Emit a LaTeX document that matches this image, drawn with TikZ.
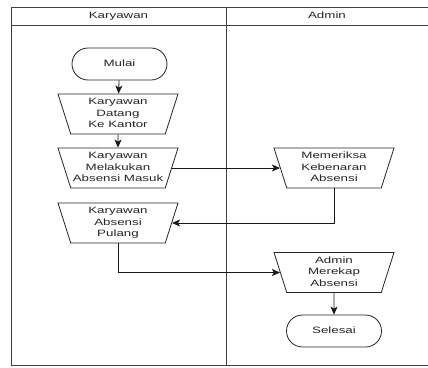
\documentclass[tikz,border=0pt]{standalone}
\usepackage{fontspec}
\setmainfont{Liberation Sans}
\usetikzlibrary{shapes.geometric,arrows.meta}
\newcommand{\sx}[1]{\makebox[40pt]{\scalebox{1.45}[1]{\begin{tabular}{@{}c@{}}#1\end{tabular}}}}
\begin{document}
\begin{tikzpicture}[x=1pt,y=-1pt,
  line width=0.8pt,
  every node/.style={font=\fontsize{9.2}{11.3}\selectfont, text=black!85},
  manual/.style={draw=black!85, fill=white, trapezium, shape border rotate=180,
    trapezium stretches body=true, minimum width=120pt, minimum height=40pt,
    trapezium angle=69.4, inner sep=0pt},
  term/.style={draw=black!85, fill=white, rectangle, rounded corners=16pt,
    minimum width=95pt, minimum height=32pt, inner sep=0pt},
  arr/.style={draw=black!90, -{Stealth[length=8pt,width=7pt,inset=2pt]}},
  pool/.style={draw=black!75, line width=0.9pt}]
\useasboundingbox (0,0) rectangle (428,367);
\fill[white] (0,0) rectangle (428,367);
% pool
\draw[pool] (428,7) -- (11,7) -- (11,365) -- (428,365);
\draw[pool] (11,25) -- (428,25);
\draw[pool] (226,7) -- (226,365);
\node (hk) at (118.5,16) {\sx{Karyawan}};
\node (ha) at (327,16) {\sx{Admin}};
% nodes
\node[term] (mulai) at (119.5,64) {\sx{Mulai}};
\node[manual] (t1) at (118,114) {\sx{Karyawan\\Datang\\Ke Kantor}};
\node[manual] (t2) at (118,168) {\sx{Karyawan\\Melakukan\\Absensi Masuk}};
\node[manual] (t3) at (118,223) {\sx{Karyawan\\Absensi\\Pulang}};
\node[manual] (m) at (334,168) {\sx{Memeriksa\\Kebenaran\\Absensi}};
\node[manual] (r) at (334,272.5) {\sx{Admin\\Merekap\\Absensi}};
\node[term] (sel) at (334,331) {\sx{Selesai}};
% connectors
\draw[arr] (mulai) -- (t1);
\draw[arr] (t1) -- (t2);
\draw[arr] (t2.east) -- (m.west);
\draw[arr] (m.south) |- (t3.east);
\draw[arr] (t3.south) |- (r.west);
\draw[arr] (r) -- (sel);
\end{tikzpicture}
\end{document}
